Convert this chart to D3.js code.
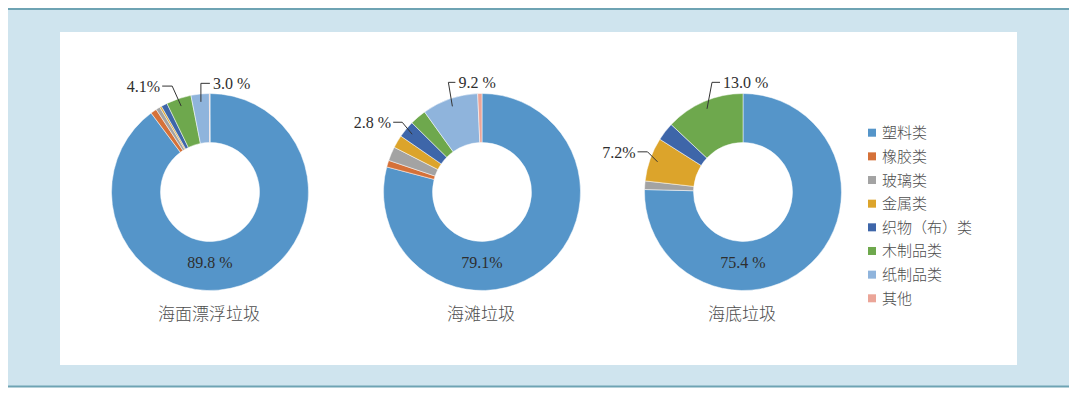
<!DOCTYPE html>
<html>
<head>
<meta charset="utf-8">
<script src="https://cdn.jsdelivr.net/npm/d3@7"></script>
<style>
    body { margin: 0; background: #fff; }
    svg { display: block; }
    .num { font-family: "Liberation Serif", "DejaVu Serif", serif; font-size: 16px; fill: #2e2e2e; }
    .cjk { font-family: "Noto Sans CJK SC", sans-serif; font-weight: 300; fill: #4d4d4d; }
</style>
</head>
<body>
<svg id="chart" width="1080" height="400"></svg>
<script>
const categories = ['塑料类', '橡胶类', '玻璃类', '金属类', '织物（布）类', '木制品类', '纸制品类', '其他'];
const chartTitles = ['海面漂浮垃圾', '海滩垃圾', '海底垃圾'];

// share of each category, same order as categories
const surfaceValues = [89.8, 1.0, 0.7, 0.3, 1.0, 4.1, 3.0, 0.1];
const beachValues = [79.1, 1.1, 2.3, 2.1, 2.8, 2.7, 9.2, 0.7];
const seabedValues = [75.4, 0, 1.4, 7.2, 3.0, 13.0, 0, 0];

const centerLabels = ['89.8 %', '79.1%', '75.4 %'];
// callouts: [chart index, category index, text]
const callouts = [
    [0, 5, '4.1%'],
    [0, 6, '3.0 %'],
    [1, 4, '2.8 %'],
    [1, 6, '9.2 %'],
    [2, 3, '7.2%'],
    [2, 5, '13.0 %'],
];

const colors = ['#5595c9', '#d57139', '#a3a3a3', '#dca42b', '#3e66a9', '#6ea84d', '#8fb4dc', '#eba598'];

// layout
const centersX = [210, 482, 743];
const cy = 192;
const outerR = 98.5;
const innerR = 49.5;
// elbow offset from slice point and horizontal run
const calloutLayout = [
    { ex: -9, ey: -20, hx: -10 },
    { ex: 0, ey: -18.5, hx: 9 },
    { ex: -10, ey: -12, hx: -9 },
    { ex: -4, ey: -24, hx: 7 },
    { ex: -10, ey: -10, hx: -10 },
    { ex: 5, ey: -26.5, hx: 8 },
];

const svg = d3.select('#chart');

// frame
svg.append('rect').attr('x', 8).attr('y', 9).attr('width', 1061).attr('height', 378).attr('fill', '#cfe4ee');
svg.append('rect').attr('x', 60).attr('y', 32).attr('width', 957).attr('height', 333).attr('fill', '#fff');
[9, 386.5].forEach((y) => {
    svg.append('line').attr('x1', 8).attr('x2', 1069).attr('y1', y).attr('y2', y)
        .attr('stroke', '#6ea3b3').attr('stroke-width', 2);
});

const seriesList = [surfaceValues, beachValues, seabedValues];
const pie = d3.pie().sort(null).value((d) => d);
const arc = d3.arc().innerRadius(innerR).outerRadius(outerR);
const arcsByChart = seriesList.map((vals) => pie(vals));

arcsByChart.forEach((arcs, i) => {
    const g = svg.append('g').attr('transform', `translate(${centersX[i]},${cy})`);

    g.selectAll('path')
        .data(arcs.filter((d) => d.value > 0))
        .enter()
        .append('path')
        .attr('d', arc)
        .attr('fill', (d) => colors[d.index])
        .attr('stroke', '#fff')
        .attr('stroke-width', 0.5);

    g.append('text')
        .attr('class', 'num')
        .attr('text-anchor', 'middle')
        .attr('x', 0)
        .attr('y', (outerR + innerR) / 2 + 2)
        .text(centerLabels[i]);

    g.append('text')
        .attr('class', 'cjk')
        .attr('text-anchor', 'middle')
        .attr('font-size', 17)
        .attr('x', -1)
        .attr('y', 128)
        .text(chartTitles[i]);
});

callouts.forEach(([ci, idx, label], k) => {
    const d = arcsByChart[ci][idx];
    const lay = calloutLayout[k];
    const a = (d.startAngle + d.endAngle) / 2;
    const r = outerR * 0.92;
    const px = centersX[ci] + Math.sin(a) * r;
    const py = cy - Math.cos(a) * r;
    const ex = px + lay.ex;
    const ey = py + lay.ey;
    const hx = ex + lay.hx;

    svg.append('path')
        .attr('d', d3.line()([[px, py], [ex, ey], [hx, ey]]))
        .attr('fill', 'none')
        .attr('stroke', '#333')
        .attr('stroke-width', 1);

    const right = lay.hx > 0;
    svg.append('text')
        .attr('class', 'num')
        .attr('text-anchor', right ? 'start' : 'end')
        .attr('x', hx + (right ? 3 : -2))
        .attr('y', ey + 6)
        .text(label);
});

// legend
const legendY = d3.scalePoint().domain(categories).range([132.7, 298.3]);
const legend = svg.append('g');
legend.selectAll('rect')
    .data(categories)
    .enter()
    .append('rect')
    .attr('x', 868)
    .attr('y', (d) => legendY(d) - 4)
    .attr('width', 8)
    .attr('height', 8)
    .attr('fill', (d, i) => colors[i]);
legend.selectAll('text')
    .data(categories)
    .enter()
    .append('text')
    .attr('class', 'cjk')
    .attr('font-size', 15)
    .attr('x', 882)
    .attr('y', (d) => legendY(d) + 5.5)
    .text((d) => d);
</script>
</body>
</html>
